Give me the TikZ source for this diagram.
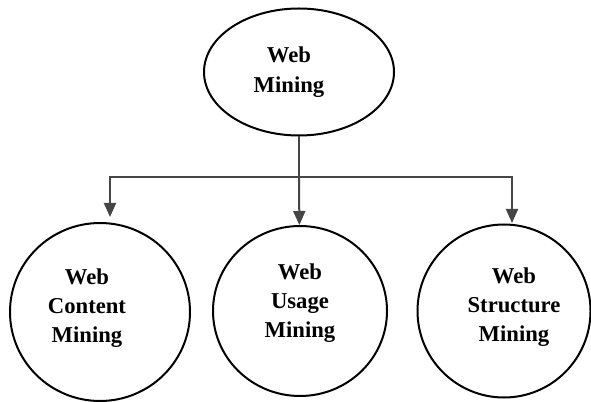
\documentclass[tikz,border=0pt]{standalone}
\usepackage{fontspec}
\setmainfont{Liberation Serif}
\usetikzlibrary{shapes.geometric,arrows.meta}
\definecolor{linkgray}{HTML}{454545}
\tikzset{
  oval/.style={ellipse, draw, line width=1.5pt, inner sep=0pt},
  mtext/.style={align=center, font=\fontsize{17}{22}\selectfont\bfseries},
  link/.style={draw=linkgray, line width=1.5pt},
  tip/.style={-{Triangle[length=10.5pt,width=9pt]}}
}
\begin{document}
\begin{tikzpicture}[x=0.75pt,y=-0.75pt]
      \useasboundingbox (0,0) rectangle (591,402);
      \draw
        (299,72) node[oval, minimum width=142.5pt, minimum height=95.25pt,
          label={[mtext, shift={(-10,0)}]center:{Web\\Mining}}] (web){}
        (100,312) node[oval, minimum width=135pt, minimum height=133.5pt,
          label={[mtext, shift={(-13,-4)}]center:{Web\\Content\\Mining}}] (content){}
        (300,311) node[oval, minimum width=130.5pt, minimum height=127.5pt,
          label={[mtext, shift={(0,-8)}]center:{Web\\Usage\\Mining}}] (usage){}
        (504,311) node[oval, minimum width=129.75pt, minimum height=129.75pt,
          label={[mtext, shift={(10,-4)}]center:{Web\\Structure\\Mining}}] (structure){};
      \coordinate (j) at (299,177);
      \coordinate (lc) at (110,217);
      \coordinate (rc) at (512,223);
      \begin{scope}[link]
        \draw (web) -- (j);
        \draw[tip] (j) -| (lc);
        \draw[tip] (j) -- (usage);
        \draw[tip] (j) -| (rc);
      \end{scope}
    \end{tikzpicture}
\end{document}
